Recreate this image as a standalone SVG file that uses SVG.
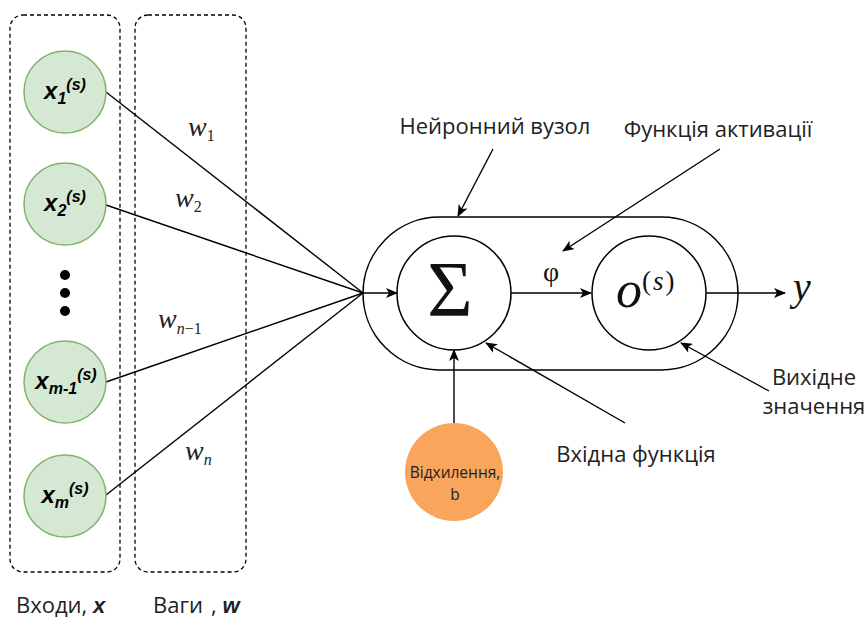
<svg xmlns="http://www.w3.org/2000/svg" width="868" height="619" viewBox="0 0 868 619">
  <style>
    .group-box { fill: none; stroke: #000; stroke-width: 1.3; stroke-dasharray: 4 3; }
    .input { fill: #d5e8d4; stroke: #82b366; stroke-width: 1.5; }
    .unit { fill: none; stroke: #000; stroke-width: 1.5; }
    .edge { fill: none; stroke: #000; stroke-width: 1.4; }
    .xlab { font-family: "Liberation Sans", Arial, sans-serif; font-weight: bold; font-style: italic; font-size: 24px; fill: #000; }
    .xsub { font-size: 16px; }
    .wlab { font-family: "Liberation Serif", "Times New Roman", serif; font-style: italic; font-size: 28px; fill: #222; }
    .wsub { font-size: 16px; }
    .up { font-style: normal; }
    .math { font-family: "Liberation Serif", "Times New Roman", serif; fill: #111; }
    .note { font-family: "Open Sans", "Noto Sans", sans-serif; font-size: 22px; fill: #222; }
  </style>
  <defs>
    <marker id="arrow" viewBox="0 0 12 10" refX="11" refY="5" markerWidth="12" markerHeight="10" markerUnits="userSpaceOnUse" orient="auto">
      <path d="M0,0 L12,5 L0,10 L3,5 z" fill="#000"/>
    </marker>
  </defs>

  <!-- column frames -->
  <g id="inputs-frame">
    <rect class="group-box" x="10" y="15" width="110" height="557" rx="13"/>
  </g>
  <g id="weights-frame">
    <rect class="group-box" x="135" y="15" width="111" height="557" rx="13"/>
  </g>

  <!-- connectors -->
  <g id="connectors">
    <line class="edge" x1="106" y1="92" x2="363" y2="293"/>
    <line class="edge" x1="106" y1="205" x2="363" y2="293"/>
    <line class="edge" x1="106" y1="382" x2="363" y2="293"/>
    <line class="edge" x1="106" y1="495" x2="363" y2="293"/>
    <line class="edge" x1="363" y1="293" x2="397" y2="293" marker-end="url(#arrow)"/>
    <line class="edge" x1="511" y1="293" x2="591" y2="293" marker-end="url(#arrow)"/>
    <line class="edge" x1="706" y1="293" x2="785" y2="293" marker-end="url(#arrow)"/>
    <line class="edge" x1="454" y1="423" x2="454" y2="350" marker-end="url(#arrow)"/>
    <!-- callout arrows -->
    <line class="edge" x1="493" y1="149" x2="458" y2="216" marker-end="url(#arrow)"/>
    <line class="edge" x1="720" y1="149" x2="563" y2="251" marker-end="url(#arrow)"/>
    <line class="edge" x1="625" y1="423" x2="486" y2="343" marker-end="url(#arrow)"/>
    <line class="edge" x1="769" y1="391" x2="681" y2="343" marker-end="url(#arrow)"/>
  </g>

  <!-- inputs -->
  <g id="x1">
    <circle class="input" cx="65" cy="92" r="41"/>
    <text class="xlab" x="65" y="99" text-anchor="middle">x<tspan class="xsub" dy="5">1</tspan><tspan class="xsub" dy="-14">(s)</tspan></text>
  </g>
  <g id="x2">
    <circle class="input" cx="65" cy="204" r="41"/>
    <text class="xlab" x="65" y="211" text-anchor="middle">x<tspan class="xsub" dy="5">2</tspan><tspan class="xsub" dy="-14">(s)</tspan></text>
  </g>
  <g id="ellipsis">
    <circle cx="65" cy="275" r="5" fill="#000"/>
    <circle cx="65" cy="293" r="5" fill="#000"/>
    <circle cx="65" cy="311" r="5" fill="#000"/>
  </g>
  <g id="xm-1">
    <circle class="input" cx="65" cy="382" r="41"/>
    <text class="xlab" x="66" y="389" text-anchor="middle">x<tspan class="xsub" dy="5">m-1</tspan><tspan class="xsub" dy="-14">(s)</tspan></text>
  </g>
  <g id="xm">
    <circle class="input" cx="65" cy="496" r="41"/>
    <text class="xlab" x="65" y="503" text-anchor="middle">x<tspan class="xsub" dy="5">m</tspan><tspan class="xsub" dy="-14">(s)</tspan></text>
  </g>

  <!-- weights -->
  <g id="w1"><text class="wlab" x="188" y="136">w<tspan class="wsub up" dy="5">1</tspan></text></g>
  <g id="w2"><text class="wlab" x="175" y="207">w<tspan class="wsub up" dy="5">2</tspan></text></g>
  <g id="wn-1"><text class="wlab" x="158" y="328">w<tspan class="wsub" dy="6">n</tspan><tspan class="wsub up">−1</tspan></text></g>
  <g id="wn"><text class="wlab" x="185" y="460">w<tspan class="wsub" dy="5">n</tspan></text></g>

  <!-- neuron -->
  <g id="neuron">
    <rect class="unit" x="363" y="217" width="375" height="153" rx="76.5"/>
  </g>
  <g id="sum">
    <circle class="unit" cx="454" cy="293" r="57"/>
    <text class="math" x="450" y="315" font-size="78" text-anchor="middle">Σ</text>
  </g>
  <g id="phi">
    <text class="math" x="551" y="281" font-size="28" text-anchor="middle">φ</text>
  </g>
  <g id="output">
    <circle class="unit" cx="649" cy="293" r="57"/>
    <text class="math" x="616" y="307" font-size="52" font-style="italic">o<tspan font-size="27" font-style="normal" dy="-17" letter-spacing="2">(<tspan font-style="italic">s</tspan>)</tspan></text>
  </g>
  <g id="y">
    <text class="math" x="793" y="300" font-size="40" font-style="italic">y</text>
  </g>
  <g id="bias">
    <circle cx="454" cy="472" r="49" fill="#f9a65c"/>
    <text x="455" y="478" font-family="'Open Sans', 'Noto Sans', sans-serif" font-size="15.5" fill="#222" text-anchor="middle">Відхилення,</text>
    <text x="455" y="500" font-family="'Open Sans', 'Noto Sans', sans-serif" font-size="15.5" fill="#222" text-anchor="middle">b</text>
  </g>

  <!-- callout labels -->
  <g id="label-node"><text class="note" x="495" y="134" text-anchor="middle">Нейронний вузол</text></g>
  <g id="label-activation"><text class="note" x="718" y="137" text-anchor="middle">Функція активації</text></g>
  <g id="label-input-fn"><text class="note" x="636" y="462" text-anchor="middle">Вхідна функція</text></g>
  <g id="label-output">
    <text class="note" x="814" y="385" text-anchor="middle">Вихідне</text>
    <text class="note" x="814" y="414" text-anchor="middle">значення</text>
  </g>

  <!-- column captions -->
  <g id="caption-inputs"><text class="note" x="16" y="613">Входи, <tspan font-family="'Liberation Sans', Arial, sans-serif" font-weight="bold" font-style="italic">x</tspan></text></g>
  <g id="caption-weights"><text class="note" x="153" y="613">Ваги</text><text class="note" x="211" y="613">, <tspan font-family="'Liberation Sans', Arial, sans-serif" font-weight="bold" font-style="italic">w</tspan></text></g>
</svg>
